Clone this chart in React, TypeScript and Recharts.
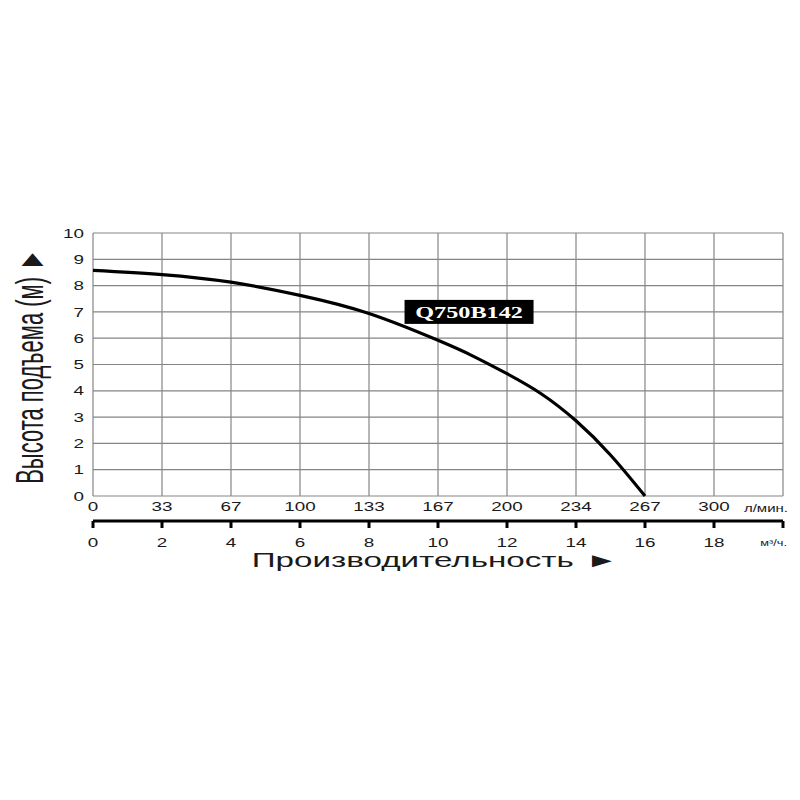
import { LineChart, Line, XAxis, YAxis, CartesianGrid, ReferenceDot, Label } from 'recharts';

// pump curve (flow in m3/h, head in m)
const flowM3h = [0, 2, 4, 6, 8, 10, 11, 12, 13, 14, 15, 16];
const headM = [8.58, 8.42, 8.13, 7.63, 6.94, 5.92, 5.33, 4.65, 3.88, 2.86, 1.56, 0];

const xTicks = [0, 2, 4, 6, 8, 10, 12, 14, 16, 18, 20];
const lpmLabels = ['0', '33', '67', '100', '133', '167', '200', '234', '267', '300'];
const m3hLabels = ['0', '2', '4', '6', '8', '10', '12', '14', '16', '18'];
const yTicks = [0, 1, 2, 3, 4, 5, 6, 7, 8, 9, 10];

const lpmUnit = 'л/мин.';
const m3hUnit = 'м³/ч.';
const yTitle = 'Высота подъема (м)';
const xTitle = 'Производительность';
const modelName = 'Q750B142';
const modelAt = { q: 10.9, h: 7 };

const data = flowM3h.map((q, i) => ({ q, h: headM[i] }));

const FONT = '"Liberation Sans", Arial, sans-serif';
const TXT = '#1a1a1a';

function LpmTick(props: any) {
  const { x, y, payload } = props;
  const i = xTicks.indexOf(payload.value);
  if (i >= lpmLabels.length) {
    return (
      <g transform={`translate(${x + 5},${y + 2})`}>
        <text transform="scale(1.5,1)" textAnchor="end" dy="0.355em" fontSize={10} fill={TXT} fontFamily={FONT}>
          {lpmUnit}
        </text>
      </g>
    );
  }
  return (
    <g transform={`translate(${x},${y})`}>
      <text transform="scale(1.45,1)" textAnchor="middle" dy="0.355em" fontSize={13} fill={TXT} fontFamily={FONT}>
        {lpmLabels[i]}
      </text>
    </g>
  );
}

function M3hTick(props: any) {
  const { x, y, payload } = props;
  const i = xTicks.indexOf(payload.value);
  if (i >= m3hLabels.length) {
    return (
      <g transform={`translate(${x + 4},${y + 1})`}>
        <text transform="scale(1.5,1)" textAnchor="end" dy="0.355em" fontSize={8.5} fill={TXT} fontFamily={FONT}>
          {m3hUnit}
        </text>
      </g>
    );
  }
  return (
    <g transform={`translate(${x},${y})`}>
      <text transform="scale(1.45,1)" textAnchor="middle" dy="0.355em" fontSize={13} fill={TXT} fontFamily={FONT}>
        {m3hLabels[i]}
      </text>
    </g>
  );
}

function HeadTick(props: any) {
  const { x, y, payload } = props;
  return (
    <g transform={`translate(${x},${y})`}>
      <text transform="scale(1.45,1)" textAnchor="end" dy="0.355em" fontSize={13} fill={TXT} fontFamily={FONT}>
        {payload.value}
      </text>
    </g>
  );
}

function YTitle(props: any) {
  const vb = props.viewBox || { x: 33, y: 233, width: 60, height: 263 };
  const cx = vb.x - 4;
  const cy = vb.y + vb.height / 2 + 2;
  return (
    <g transform={`translate(${cx},${cy}) scale(1.75,1) rotate(-90)`}>
      <text textAnchor="middle" dy="0.36em" fontSize={22} fill={TXT} fontFamily={FONT}>
        {yTitle}
        <tspan dx={7} fontSize={21}>►</tspan>
      </text>
    </g>
  );
}

function XTitle(props: any) {
  const vb = props.viewBox || { x: 93, y: 521, width: 690, height: 60 };
  const cx = vb.x + vb.width / 2 - 3;
  const cy = vb.y + 39;
  return (
    <g transform={`translate(${cx},${cy}) scale(1.66,1)`}>
      <text textAnchor="middle" dy="0.36em" fontSize={20} fill={TXT} fontFamily={FONT}>
        {xTitle}
        <tspan dx={7} fontSize={20}>►</tspan>
      </text>
    </g>
  );
}

function ModelBadge(props: any) {
  const { cx, cy } = props;
  return (
    <g>
      <rect x={cx - 64.5} y={cy - 12} width={129} height={24} fill="#000" />
      <g transform={`translate(${cx},${cy})`}>
        <text
          transform="scale(1.47,1)"
          textAnchor="middle"
          dy="0.35em"
          fontSize={16.5}
          fontWeight="bold"
          fill="#fff"
          fontFamily='"Liberation Serif", "Times New Roman", serif'
        >
          {modelName}
        </text>
      </g>
    </g>
  );
}

export default function App() {
  return (
    <div style={{ position: 'absolute', left: 0, top: 0, width: 800, height: 800, background: '#fff' }}>
      <LineChart width={800} height={800} data={data} margin={{ top: 233, right: 17, bottom: 219, left: 33 }}>
        <CartesianGrid xAxisId="lpm" stroke="#858585" strokeWidth={1.2} />
        <XAxis
          xAxisId="lpm"
          dataKey="q"
          type="number"
          domain={[0, 20]}
          ticks={xTicks}
          interval={0}
          height={25}
          axisLine={false}
          tickLine={false}
          tickSize={0}
          tickMargin={10}
          tick={<LpmTick />}
        />
        <XAxis
          xAxisId="m3h"
          dataKey="q"
          type="number"
          domain={[0, 20]}
          ticks={xTicks}
          interval={0}
          height={60}
          axisLine={{ stroke: '#000', strokeWidth: 3 }}
          tickLine={{ stroke: '#000', strokeWidth: 3 }}
          tickSize={7}
          tickMargin={14}
          tick={<M3hTick />}
        >
          <Label content={<XTitle />} />
        </XAxis>
        <YAxis
          type="number"
          domain={[0, 10]}
          ticks={yTicks}
          interval={0}
          width={60}
          axisLine={false}
          tickLine={false}
          tickSize={0}
          tickMargin={9}
          tick={<HeadTick />}
        >
          <Label content={<YTitle />} />
        </YAxis>
        <Line
          xAxisId="lpm"
          dataKey="h"
          type="natural"
          stroke="#000"
          strokeWidth={3.2}
          dot={false}
          isAnimationActive={false}
        />
        <ReferenceDot xAxisId="lpm" x={modelAt.q} y={modelAt.h} r={0} shape={<ModelBadge />} />
      </LineChart>
    </div>
  );
}
